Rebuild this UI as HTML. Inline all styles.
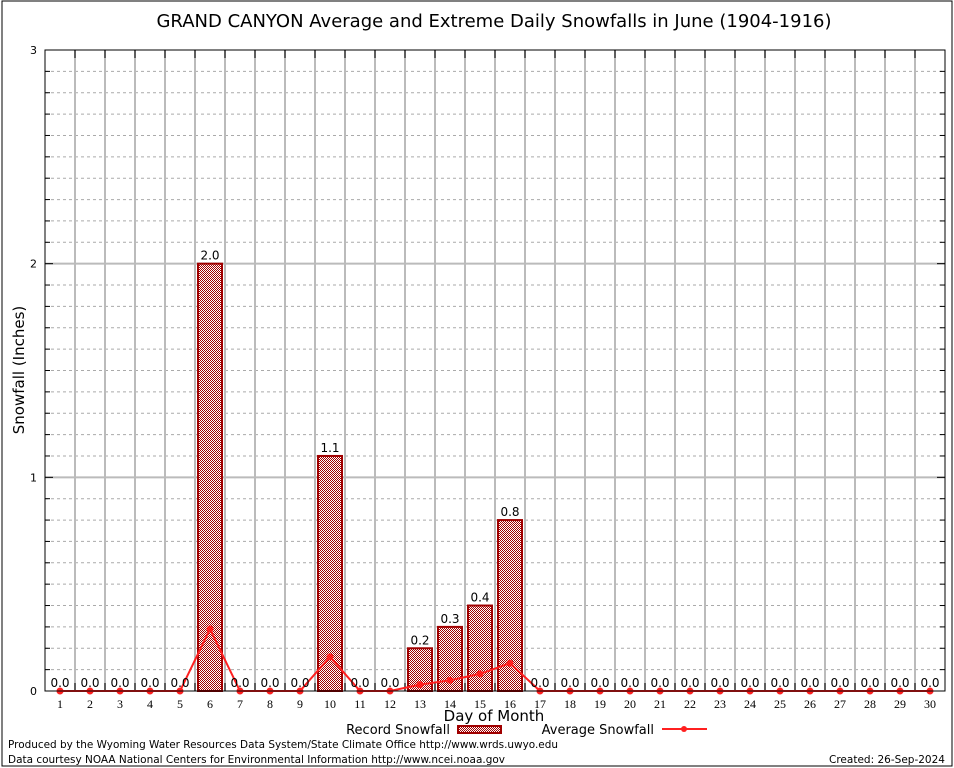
<!DOCTYPE html>
<html><head><meta charset="utf-8"><style>
body{margin:0;background:#fff}
svg{display:block;font-family:"DejaVu Sans","Liberation Sans",sans-serif}
</style></head><body>
<svg id="chart" width="954" height="768">
<defs><pattern id="chk" width="2" height="2" patternUnits="userSpaceOnUse"><rect width="2" height="2" fill="#fff"/><rect width="1" height="1" fill="#a00000"/><rect x="1" y="1" width="1" height="1" fill="#a00000"/></pattern></defs>
<rect x="2" y="1" width="950" height="765" fill="none" stroke="#000"/>
<text x="494" y="27" text-anchor="middle" font-size="18">GRAND CANYON Average and Extreme Daily Snowfalls in June (1904-1916)</text>
<g id="grid"></g><g id="bars"></g><g id="line"></g><g id="labels"></g>
<rect x="45" y="50" width="900" height="641" fill="none" stroke="#000"/>
<text transform="translate(24,370) rotate(-90)" text-anchor="middle" font-size="15">Snowfall (Inches)</text>
<text x="494" y="721" text-anchor="middle" font-size="15">Day of Month</text>
<g>
<text x="450" y="734" text-anchor="end" font-size="13">Record Snowfall</text>
<rect x="458" y="726" width="43" height="7" fill="url(#chk)" stroke="#a00000" stroke-width="2"/>
<text x="654" y="734" text-anchor="end" font-size="13">Average Snowfall</text>
<line x1="662" y1="729" x2="707" y2="729" stroke="#ff2020" stroke-width="2"/>
<circle cx="684" cy="729" r="3" fill="#ff2020"/>
</g>
<text x="8" y="748" font-size="11" textLength="550" lengthAdjust="spacingAndGlyphs">Produced by the Wyoming Water Resources Data System/State Climate Office http://www.wrds.uwyo.edu</text>
<text x="8" y="763" font-size="11" textLength="497" lengthAdjust="spacingAndGlyphs">Data courtesy NOAA National Centers for Environmental Information http://www.ncei.noaa.gov</text>
<text x="945" y="763" text-anchor="end" font-size="11" textLength="116" lengthAdjust="spacingAndGlyphs">Created: 26-Sep-2024</text>
</svg>
<script>
const days=[1,2,3,4,5,6,7,8,9,10,11,12,13,14,15,16,17,18,19,20,21,22,23,24,25,26,27,28,29,30];
const recordValues=[0,0,0,0,0,2.0,0,0,0,1.1,0,0,0.2,0.3,0.4,0.8,0,0,0,0,0,0,0,0,0,0,0,0,0,0];
const averageValues=[0,0,0,0,0,0.29,0,0,0,0.16,0,0,0.03,0.05,0.08,0.13,0,0,0,0,0,0,0,0,0,0,0,0,0,0];
const yTicks=[0,1,2,3];
const NS="http://www.w3.org/2000/svg";
const L=45,R=945,T=50,B=691,YMAX=3;
const x=d=>L+(d-0.5)*(R-L)/days.length;
const y=v=>B-v*(B-T)/YMAX;
function mk(tag,attrs,parent,txt){const e=document.createElementNS(NS,tag);for(const k in attrs)e.setAttribute(k,attrs[k]);if(txt!==undefined)e.textContent=txt;parent.appendChild(e);return e;}
const grid=document.getElementById('grid'),bars=document.getElementById('bars'),line=document.getElementById('line'),labels=document.getElementById('labels');
for(let i=1;i<YMAX*10;i++){const v=i/10;if(i%10===0)continue;
const g=mk('line',{x1:L,x2:R,y1:y(v),y2:y(v),stroke:'#aaa','stroke-dasharray':'3,3'},grid);


mk('line',{x1:L,x2:L+5,y1:y(v),y2:y(v),stroke:'#000'},grid);mk('line',{x1:R-5,x2:R,y1:y(v),y2:y(v),stroke:'#000'},grid);}
yTicks.forEach(t=>{if(t>0&&t<YMAX){const g=mk('line',{x1:L,x2:R,y1:y(t),y2:y(t),stroke:'#bbb','stroke-width':2},grid);

}
mk('line',{x1:L,x2:L+8,y1:y(t),y2:y(t),stroke:'#000'},grid);mk('line',{x1:R-8,x2:R,y1:y(t),y2:y(t),stroke:'#000'},grid);
const tl=mk('text',{x:L-8,y:y(t)+4,'text-anchor':'end','font-size':11},labels,String(t));

});
for(let k=1;k<days.length;k++){const xx=L+k*(R-L)/days.length;
const g=mk('line',{x1:xx,x2:xx,y1:T,y2:B,stroke:'#bbb','stroke-width':2},grid);


mk('line',{x1:xx,x2:xx,y1:T,y2:T+8,stroke:'#000'},grid);mk('line',{x1:xx,x2:xx,y1:B-8,y2:B,stroke:'#000'},grid);}
days.forEach((d,i)=>{const v=recordValues[i];
if(v>0){const b=mk('rect',{x:x(d)-12,y:y(v),width:24,height:y(0)-y(v),fill:'url(#chk)',stroke:'#a00000','stroke-width':2},bars);

}
const lb=mk('text',{x:x(d),y:y(v)-4,'text-anchor':'middle','font-size':12},labels,v.toFixed(1));


const xl=mk('text',{x:x(d),y:B+17,'text-anchor':'middle','font-size':12,'font-family':'Liberation Serif,serif'},labels,String(d));

});
const pl=mk('polyline',{points:days.map((d,i)=>x(d)+','+y(averageValues[i])).join(' '),fill:'none',stroke:'#ff2020','stroke-width':2},line);


days.forEach((d,i)=>{const c=mk('circle',{cx:x(d),cy:y(averageValues[i]),r:3.5,fill:'#ff2020'},line);

});
</script>
</body></html>
